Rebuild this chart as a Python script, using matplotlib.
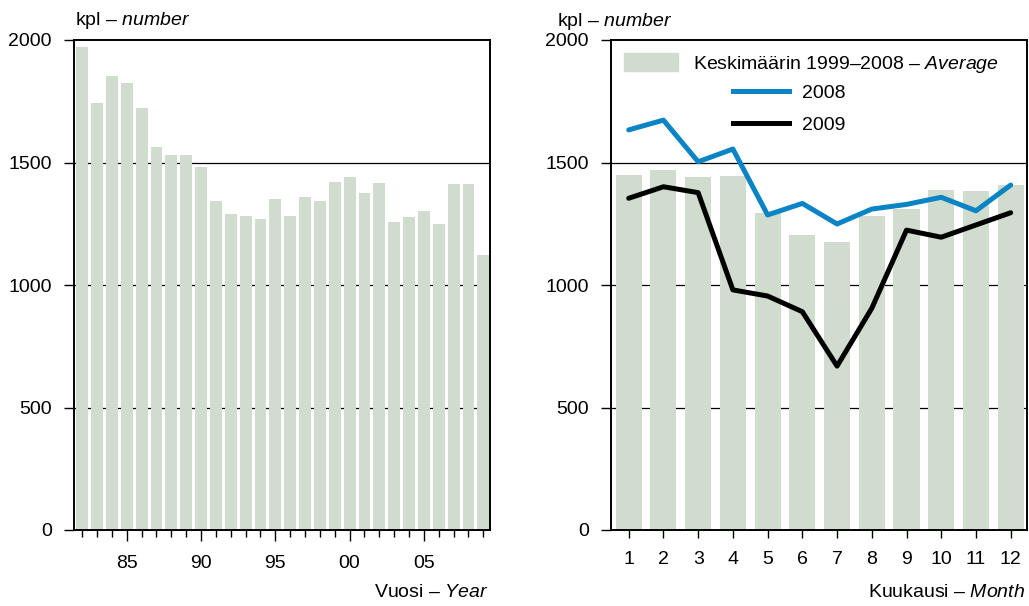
import matplotlib
matplotlib.use("Agg")
import matplotlib.pyplot as plt
from matplotlib.patches import Patch
from matplotlib.lines import Line2D

plt.rcParams['font.family'] = ['Liberation Sans', 'DejaVu Sans']
plt.rcParams['font.size'] = 14
plt.rcParams['mathtext.fontset'] = 'custom'
plt.rcParams['mathtext.rm'] = 'Liberation Sans'
plt.rcParams['mathtext.it'] = 'Liberation Sans:italic'

# Vuosittaiset luvut 1982-2009
years = list(range(1982, 2010))
yearly = [1973, 1744, 1853, 1826, 1724, 1565, 1531, 1531, 1483, 1343,
          1291, 1283, 1269, 1351, 1282, 1359, 1343, 1420, 1441, 1376,
          1416, 1257, 1278, 1302, 1249, 1412, 1412, 1122]
year_ticks = [1985, 1990, 1995, 2000, 2005]
year_labels = ['85', '90', '95', '00', '05']

# Kuukausittaiset luvut
months = list(range(1, 13))
avg_9908 = [1449, 1469, 1442, 1446, 1295, 1204, 1177, 1283, 1310, 1388, 1384, 1408]
m2008 = [1633, 1673, 1503, 1555, 1286, 1333, 1249, 1310, 1329, 1358, 1303, 1408]
m2009 = [1354, 1401, 1377, 980, 955, 891, 669, 905, 1224, 1195, 1245, 1295]

bar_col = '#d0dccd'
blue = '#0a84c4'

fig = plt.figure(figsize=(10.29, 6.06), dpi=100)
ax1 = fig.add_axes([74 / 1029, 1 - 530 / 606, 416 / 1029, 490 / 606])
ax2 = fig.add_axes([611 / 1029, 1 - 530 / 606, 416 / 1029, 490 / 606])

for ax in (ax1, ax2):
    ax.set_ylim(0, 2000)
    ax.set_yticks([0, 500, 1000, 1500, 2000])
    for v in (500, 1000, 1500):
        ax.axhline(v, color='black', lw=0.9, zorder=0)
    for s in ax.spines.values():
        s.set_linewidth(1.4)
    ax.tick_params(axis='y', direction='out', length=7, width=1, pad=9)
    ax.set_axisbelow(True)

# vasen kuva
ax1.bar(years, yearly, width=0.8, color=bar_col, zorder=2)
ax1.set_xlim(1981.45, 2009.45)
ax1.set_xticks(year_ticks)
ax1.set_xticklabels(year_labels)
ax1.set_xticks(years, minor=True)
ax1.tick_params(axis='x', which='major', direction='out', length=8, width=1, pad=10)
ax1.tick_params(axis='x', which='minor', direction='out', length=5, width=1)
ax1.text(0.002, 1.04, 'kpl – $\\mathit{number}$', transform=ax1.transAxes,
         ha='left', va='center')
ax1.text(0.995, -0.128, 'Vuosi – $\\mathit{Year}$', transform=ax1.transAxes,
         ha='right', va='center')

# oikea kuva
ax2.bar(months, avg_9908, width=0.75, color=bar_col, zorder=2)
ax2.plot(months, m2008, color=blue, lw=3.6, zorder=3, solid_capstyle='round')
ax2.plot(months, m2009, color='black', lw=3.6, zorder=3, solid_capstyle='round')
ax2.set_xlim(0.49, 12.47)
ax2.set_xticks(months)
ax2.tick_params(axis='x', direction='out', length=6, width=1, pad=9)

leg1 = ax2.legend([Patch(color=bar_col)], ['Keskimäärin 1999–2008 – $\\mathit{Average}$'],
                  loc='center left', bbox_to_anchor=(0.031, 0.951), frameon=False,
                  handlelength=2.8, handleheight=1.0, handletextpad=0.75,
                  borderpad=0, borderaxespad=0)
ax2.add_artist(leg1)
ax2.legend([Line2D([], [], color=blue, lw=3.6), Line2D([], [], color='black', lw=3.6)],
           ['2008', '2009'], loc='center left', bbox_to_anchor=(0.293, 0.859),
           frameon=False, handlelength=2.9, handletextpad=0.64, labelspacing=0.7,
           borderpad=0, borderaxespad=0)

fig.text(557 / 1029, 1 - 21 / 606, 'kpl – $\\mathit{number}$', ha='left', va='center')
ax2.text(0.995, -0.128, 'Kuukausi – $\\mathit{Month}$', transform=ax2.transAxes,
         ha='right', va='center')

plt.savefig('out.png', dpi=100)
